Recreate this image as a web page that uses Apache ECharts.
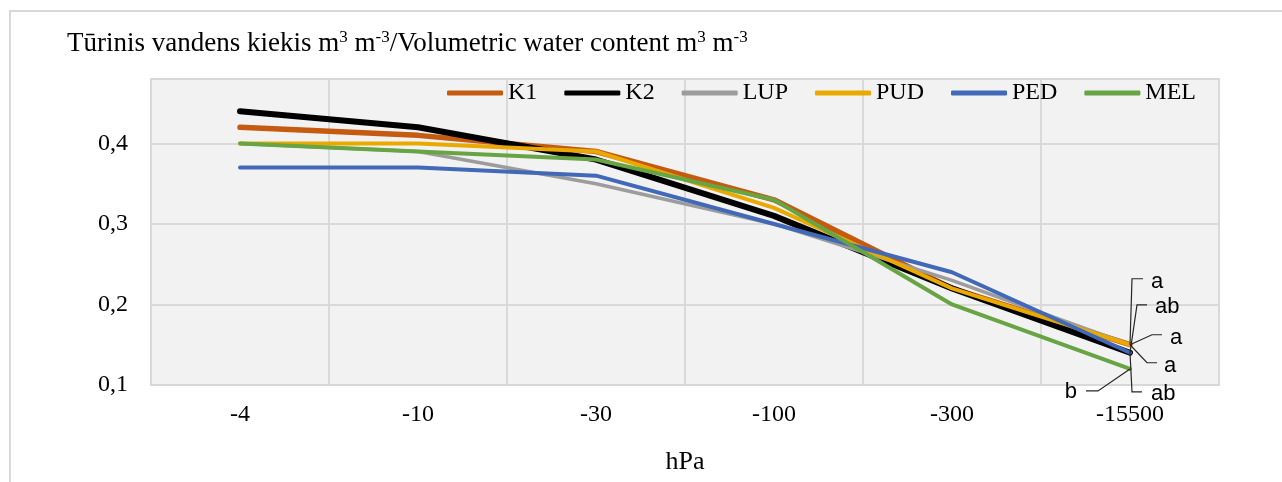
<!DOCTYPE html>
<html>
<head>
<meta charset="utf-8">
<script src="https://cdn.jsdelivr.net/npm/echarts@6/dist/echarts.min.js"></script>
<style>
  html, body { margin: 0; padding: 0; background: #fff; }
  #chart { width: 1282px; height: 482px; }
</style>
</head>
<body>
<div id="chart"></div>
<script>
// pressure steps (hPa)
var categories = ['-4', '-10', '-30', '-100', '-300', '-15500'];

// volumetric water content, m3 m-3
var k1  = [0.42, 0.41, 0.39, 0.33, 0.22, 0.15];
var k2  = [0.44, 0.42, 0.38, 0.31, 0.22, 0.14];
var lup = [0.40, 0.39, 0.35, 0.30, 0.23, 0.15];
var pud = [0.40, 0.40, 0.39, 0.32, 0.22, 0.15];
var ped = [0.37, 0.37, 0.36, 0.30, 0.24, 0.14];
var mel = [0.40, 0.39, 0.38, 0.33, 0.20, 0.12];

var seriesNames = ['K1', 'K2', 'LUP', 'PUD', 'PED', 'MEL'];
// significance letters at -15500 hPa
var letters = ['a', 'ab', 'a', 'a', 'ab', 'b'];

var yTicks = [0.1, 0.2, 0.3, 0.4];

var allData = [k1, k2, lup, pud, ped, mel];
var colors = ['#c55a11', '#000000', '#9c9c9c', '#eaa900', '#4169b8', '#67a443'];
var widths = [5.5, 6, 3.5, 4, 4, 4];

// leader line: bend dx,dy / end dx,dy / text dx,dy / align  (offsets from point)
var leader = [
	[2, -66, 13, -66, 21, -63, 'left'],
	[7, -48, 17, -48, 25, -46, 'left'],
	[22, -10, 32, -10, 40, -7, 'left'],
	[17, 18, 27, 18, 34, 21, 'left'],
	[2, 39, 12, 39, 21, 41, 'left'],
	[-32, 22, -44, 22, -53, 23, 'right']
];

var serif = '"Liberation Serif", "Times New Roman", serif';

var series = [];
var legendData = [];
for (var i = 0; i < allData.length; i++) {
	series.push({
		name: seriesNames[i],
		type: 'line',
		data: allData[i],
		symbol: 'none',
		lineStyle: { color: colors[i], width: widths[i], cap: 'round', join: 'round' },
		itemStyle: { color: colors[i] },
		z: 2 + i
	});
	legendData.push({ name: seriesNames[i], icon: 'roundRect', itemStyle: { color: colors[i] } });
}

var last = categories.length - 1;
var letterData = [];
for (var s = 0; s < allData.length; s++) {
	letterData.push([last, allData[s][last], s]);
}

series.push({
	name: 'letters',
	type: 'custom',
	silent: true,
	clip: false,
	z: 20,
	data: letterData,
	renderItem: function (params, api) {
		var p = api.coord([api.value(0), api.value(1)]);
		var g = leader[api.value(2)];
		return {
			type: 'group',
			children: [
				{
					type: 'polyline',
					shape: { points: [p, [p[0] + g[0], p[1] + g[1]], [p[0] + g[2], p[1] + g[3]]] },
					style: { stroke: '#262626', lineWidth: 1.2, fill: null }
				},
				{
					type: 'text',
					x: p[0] + g[4],
					y: p[1] + g[5],
					style: {
						text: letters[api.value(2)],
						fontFamily: '"Liberation Sans", Arial, sans-serif',
						fontSize: 22,
						fill: '#000',
						align: g[6],
						verticalAlign: 'middle'
					}
				}
			]
		};
	}
});

var myChart = echarts.init(document.getElementById('chart'));
var option = {
	backgroundColor: '#fff',
	animation: false,
	graphic: [{
		type: 'rect',
		shape: { x: 10, y: 11, width: 1290, height: 490 },
		style: { fill: 'none', stroke: '#d9d9d9', lineWidth: 2 },
		silent: true
	}],
	title: {
		left: 62,
		top: 24,
		text: '{n|Tūrinis vandens kiekis m}{s|3}{n| m}{s|-3}{n|/Volumetric water content m}{s|3}{n| m}{s|-3}',
		textStyle: {
			fontWeight: 'normal',
			rich: {
				n: { fontFamily: serif, fontSize: 27, fontWeight: 'normal', lineHeight: 30, color: '#000' },
				s: { fontFamily: serif, fontSize: 17, fontWeight: 'normal', lineHeight: 17, verticalAlign: 'top', color: '#000' }
			}
		}
	},
	legend: {
		data: legendData,
		left: 447,
		top: 81,
		padding: 0,
		itemWidth: 56,
		itemHeight: 5,
		itemGap: 27,
		textStyle: { fontFamily: serif, fontSize: 24, color: '#000' }
	},
	grid: {
		left: 151,
		right: 63,
		top: 79,
		bottom: 97,
		show: true,
		backgroundColor: '#f2f2f2',
		borderColor: '#d9d9d9',
		borderWidth: 2
	},
	xAxis: {
		type: 'category',
		data: categories,
		boundaryGap: true,
		name: 'hPa',
		nameLocation: 'middle',
		nameGap: 64,
		nameTextStyle: { fontFamily: serif, fontSize: 26, color: '#000' },
		axisLine: { lineStyle: { color: '#d9d9d9', width: 2 } },
		axisTick: { show: false },
		axisLabel: { fontFamily: serif, fontSize: 24, color: '#000', margin: 18 },
		splitLine: { show: true, interval: 0, lineStyle: { color: '#d9d9d9', width: 2 } }
	},
	yAxis: {
		type: 'value',
		min: 0.1,
		max: 0.48,
		interval: 0.1,
		axisLine: { show: false },
		axisTick: { show: false },
		axisLabel: {
			fontFamily: serif,
			fontSize: 24,
			color: '#000',
			margin: 23,
			formatter: function (v) {
				for (var t = 0; t < yTicks.length; t++) {
					if (Math.abs(v - yTicks[t]) < 1e-6) return yTicks[t].toFixed(1).replace('.', ',');
				}
				return '';
			}
		},
		splitLine: { lineStyle: { color: '#d9d9d9', width: 2 } }
	},
	series: series
};
myChart.setOption(option);
</script>
</body>
</html>
